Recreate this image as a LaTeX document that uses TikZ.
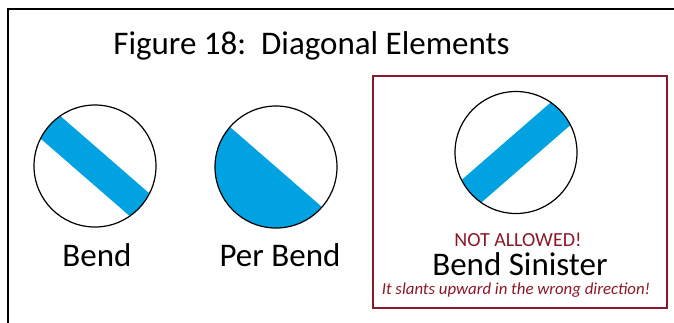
\documentclass[tikz,border=0pt]{standalone}
\usepackage{fontspec}
\setmainfont{Carlito}
\usepackage{tikz}
\usetikzlibrary{positioning}
\definecolor{azure}{RGB}{0,162,226}
\definecolor{claret}{RGB}{139,24,40}
\tikzstyle{roundel} = [circle, draw=black, line width=1.2pt, minimum size=122pt, inner sep=0pt]
\tikzstyle{bendband} = [roundel, path picture={
        \draw[azure, line width=30pt] (path picture bounding box.center) ++(139:80pt) -- ++(-41:160pt);
    }]
\tikzstyle{sinisterband} = [roundel, path picture={
        \draw[azure, line width=30pt] (path picture bounding box.center) ++(-139:80pt) -- ++(41:160pt);
    }]
\tikzstyle{perbend} = [roundel, path picture={
        \fill[azure] (path picture bounding box.center) ++(139:80pt) -- ++(-41:160pt) -- ++(-131:80pt) -- ++(139:160pt) -- cycle;
    }]
\tikzstyle{heading} = [font=\fontsize{33}{40}\selectfont, anchor=base]
\tikzstyle{caption} = [font=\fontsize{33}{40}\selectfont, anchor=base, inner sep=0pt]
\tikzstyle{warning} = [font=\fontsize{20}{24}\selectfont, text=claret, anchor=base, inner sep=0pt]
\tikzstyle{remark} = [font=\fontsize{16.8}{20}\itshape\selectfont, text=claret, anchor=base, inner sep=0pt]
\tikzstyle{banbox} = [rectangle, draw=claret, line width=2pt, minimum width=294pt, minimum height=232pt, inner sep=0pt]

\begin{document}
\begin{tikzpicture}[x=1pt, y=-1pt]
		\useasboundingbox (0,0) rectangle (674,322);

		% Frame
		\draw[line width=2pt] (7.5,330) -- (7.5,8.5) -- (680,8.5);

		% Nodes
		\node (title) [heading] at (311.5,54) {Figure 18:\ \ Diagonal Elements};

		\node (ban) [banbox] at (520,192.2) {};

		\node (bend) [bendband] at (95,166) {};
		\node (per) [perbend] at (276,167) {};
		\node (sinister) [sinisterband] at (516,152.5) {};

		% Labels
		\node (bendtxt) [caption, below=39pt of bend.south, anchor=base, xshift=2pt] {Bend};
		\node (pertxt) [caption, below=38pt of per.south, anchor=base, xshift=4pt] {Per Bend};

		\node (forbid) [warning, below=32pt of sinister.south, anchor=base, xshift=2pt] {NOT ALLOWED!};
		\node (sinistertxt) [caption, below=29.5pt of forbid.base, anchor=base, xshift=2pt] {Bend Sinister};
		\node (why) [remark, below=19pt of sinistertxt.base, anchor=base, xshift=-4pt] {It slants upward in the wrong direction!};
	\end{tikzpicture}
\end{document}
